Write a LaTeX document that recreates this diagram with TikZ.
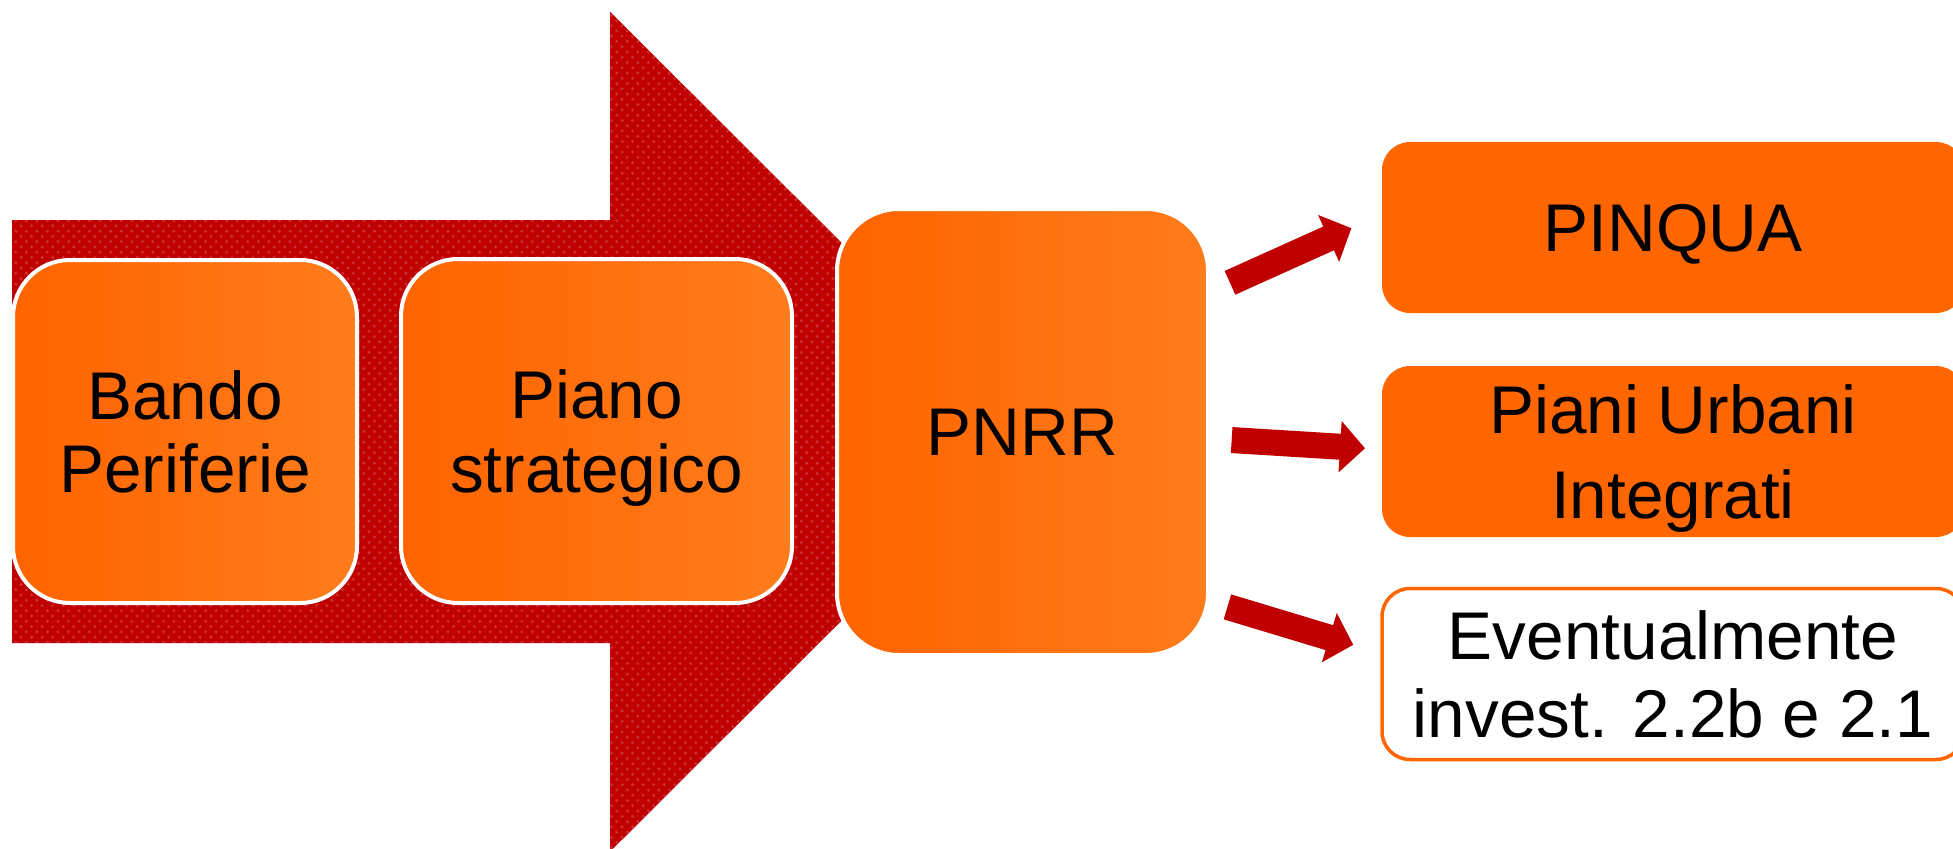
\documentclass[tikz,border=0pt]{standalone}
\usepackage{fontspec}
\setmainfont{Liberation Sans}
\usetikzlibrary{calc, arrows.meta, patterns}
\definecolor{darkred}{HTML}{C00000}
\definecolor{orangeA}{HTML}{FF6400}
\definecolor{orangeB}{HTML}{FF7C1C}
\definecolor{orangeC}{HTML}{FF6600}
\tikzstyle{bigarrow}=[fill=darkred, postaction={pattern=crosshatch dots, pattern color=darkred!82!white}]
\tikzstyle{phase}=[shape=rectangle, rounded corners=5.7mm, draw=white, line width=0.4mm, left color=orangeA, right color=orangeB, align=center, text depth=0pt, font=\fontsize{19.2}{20.8}\selectfont]
\tikzstyle{outcome}=[shape=rectangle, rounded corners=2.8mm, fill=orangeC, minimum width=58.2mm, minimum height=17.1mm, align=center, text depth=0pt]
\tikzstyle{l}=[draw=darkred, line width=2.6mm, -{Triangle[length=2.5mm,width=5mm]}]

\begin{document}
\begin{tikzpicture}[x=0.1mm, y=-0.1mm]
\useasboundingbox (0,0) rectangle (1953,848);
\clip (0,0) rectangle (1953,848);

% big arrow
\fill[bigarrow] (12,220) -- (610,220) -- (610,11.7) -- (1031,431.7) -- (610,851.7) -- (610,643) -- (12,643) -- cycle;

% phases
\node[phase, minimum width=34.4mm, minimum height=34.3mm] (bando) at (185,431.5) {Bando\\Periferie};
\node[phase, minimum width=39.1mm, minimum height=34.4mm] (piano) at (596.5,431) {Piano\\strategico};
\node[phase, rounded corners=6.2mm, minimum width=37.1mm, minimum height=44.6mm] (pnrr) at (1022.5,432) {PNRR};

% outcomes
\node[outcome, font=\fontsize{19.2}{20.8}\selectfont] (pinqua) at (1673,227.5) {PINQUA};
\node[outcome, font=\fontsize{19.2}{24.2}\selectfont] (piani) at (1673,451.5) {Piani Urbani\\Integrati};
\node[outcome, fill=white, draw=orangeC, line width=0.35mm, font=\fontsize{19.2}{22.2}\selectfont] (event) at (1673,674) {Eventualmente\\invest. 2.2b e 2.1};

%paths
\path [l, shorten <=2.19mm, shorten >=3.28mm] ($(pnrr.east)+(0,-140.2)$) -- ($(pinqua.west)+(0,-12.8)$);
\path [l, shorten <=2.17mm, shorten >=1.63mm] ($(pnrr.east)+(0,6.7)$) -- ($(piani.west)+(0,-2.2)$);
\path [l, shorten <=1.82mm, shorten >=2.82mm] ($(pnrr.east)+(0,169.6)$) -- ($(event.west)+(0,-21)$);

\end{tikzpicture}
\end{document}
